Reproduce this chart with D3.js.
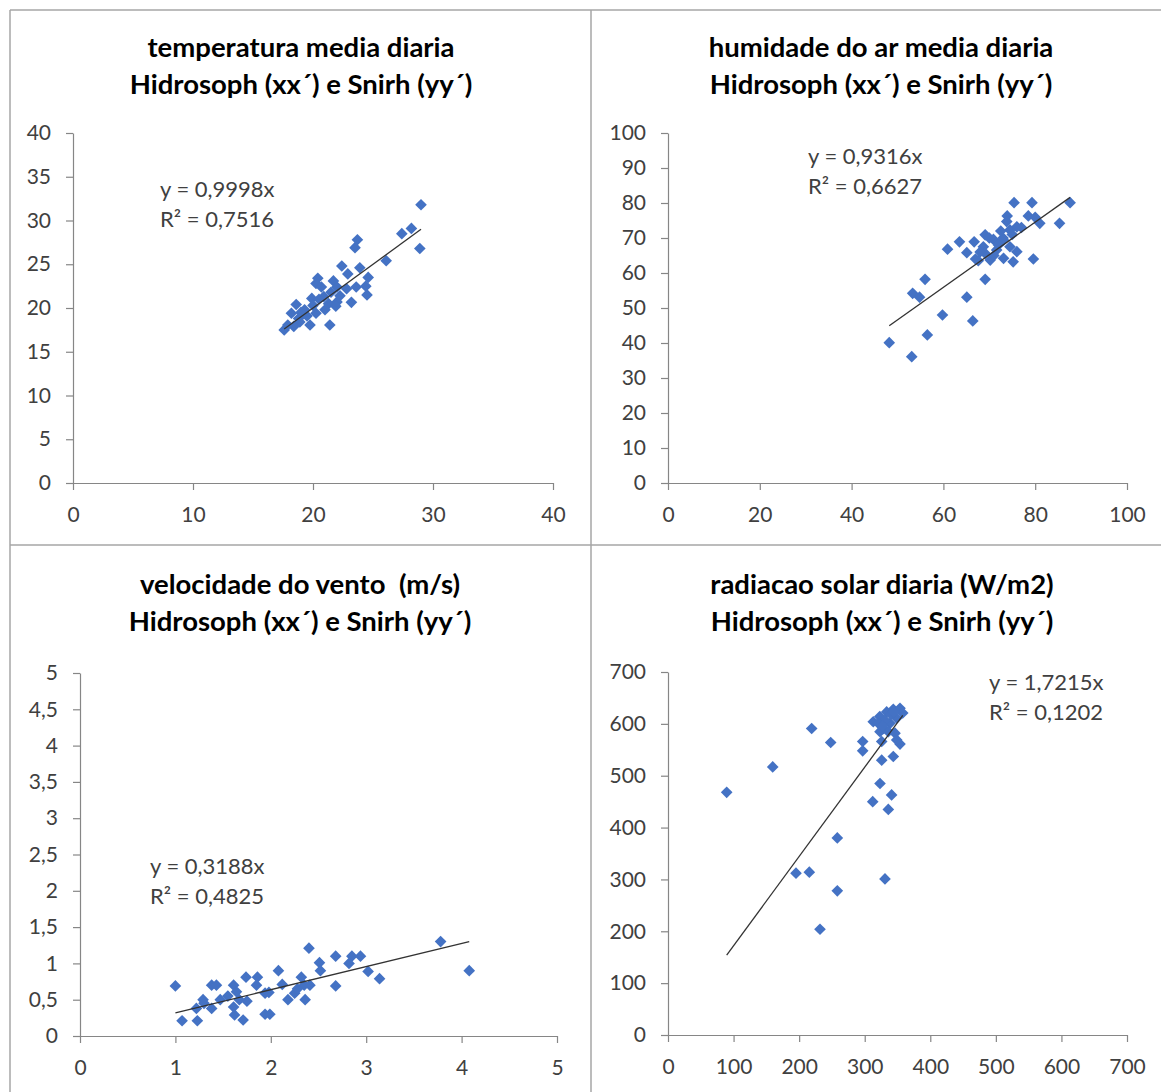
<!DOCTYPE html>
<html>
<head>
<meta charset="utf-8">
<script src="https://cdn.jsdelivr.net/npm/d3@7"></script>
<style>
  html, body { margin: 0; padding: 0; background: #fff; }
  svg { display: block; }
  text { font-family: Lato, "Open Sans", sans-serif; white-space: pre; }
</style>
</head>
<body>
<svg id="chart" width="1161" height="1092"></svg>
<script>
// ---------- DATA ----------
const titlesTemp = ["temperatura media diaria", "Hidrosoph (xx´) e Snirh (yy´)"];
const titlesHum  = ["humidade do ar media diaria", "Hidrosoph (xx´) e Snirh (yy´)"];
const titlesWind = ["velocidade do vento  (m/s)", "Hidrosoph (xx´) e Snirh (yy´)"];
const titlesRad  = ["radiacao solar diaria (W/m2)", "Hidrosoph (xx´) e Snirh (yy´)"];

const tempTicksX = [0, 10, 20, 30, 40];
const tempTicksY = [0, 5, 10, 15, 20, 25, 30, 35, 40];
const humTicksX  = [0, 20, 40, 60, 80, 100];
const humTicksY  = [0, 10, 20, 30, 40, 50, 60, 70, 80, 90, 100];
const windTicksX = [0, 1, 2, 3, 4, 5];
const windTicksY = [0, 0.5, 1, 1.5, 2, 2.5, 3, 3.5, 4, 4.5, 5];
const radTicksX  = [0, 100, 200, 300, 400, 500, 600, 700];
const radTicksY  = [0, 100, 200, 300, 400, 500, 600, 700];

const tempSlope = 0.9998, tempR2 = "0,7516";
const humSlope  = 0.9316, humR2  = "0,6627";
const windSlope = 0.3188, windR2 = "0,4825";
const radSlope  = 1.7215, radR2  = "0,1202";

const tempX = [29.0, 28.2, 27.4, 28.9, 26.1, 23.7, 23.5, 22.4, 23.9, 22.9, 24.6, 20.4, 20.25, 21.7, 22.0, 23.6,
               24.4, 24.5, 22.8, 20.7, 19.9, 22.25, 22.0, 23.2, 21.3, 20.0, 18.6, 21.9, 21.0, 19.3, 20.25, 18.2,
               19.5, 18.8, 19.75, 21.4, 18.9, 18.4, 17.6, 17.9, 20.9, 21.5, 20.5, 19.0];
const tempY = [31.8, 29.1, 28.5, 26.8, 25.4, 27.8, 26.9, 24.8, 24.6, 23.9, 23.5, 23.4, 22.8, 23.1, 22.4, 22.4,
               22.5, 21.5, 22.2, 22.4, 21.1, 21.4, 20.7, 20.65, 20.5, 20.3, 20.4, 20.2, 19.8, 19.8, 19.4, 19.4,
               19.1, 18.8, 18.06, 18.06, 18.4, 17.9, 17.5, 18.06, 21.3, 21.8, 21.0, 19.5];

const humX = [87.6, 75.4, 79.3, 85.3, 78.5, 80.0, 81.0, 73.9, 73.8, 76.0, 74.5, 69.1, 70.9, 73.1, 66.7, 63.5,
              60.9, 65.1, 68.7, 69.1, 71.6, 74.5, 76.0, 73.1, 75.2, 79.6, 67.6, 70.2, 69.1, 56.0, 53.3, 54.8,
              65.1, 59.8, 66.4, 56.5, 48.2, 53.1, 70.0, 72.0, 68.0, 71.0, 75.0, 77.0, 73.0, 67.0, 72.5];
const humY = [80.1, 80.1, 80.1, 74.2, 76.3, 75.9, 74.2, 76.3, 74.7, 73.2, 72.3, 70.9, 69.6, 69.4, 68.9, 68.9,
              66.8, 65.8, 67.5, 65.6, 66.6, 67.5, 66.1, 64.2, 63.2, 64.0, 63.5, 63.7, 58.2, 58.2, 54.2, 53.1,
              53.1, 48.0, 46.3, 42.3, 40.1, 36.1, 70.0, 68.0, 66.0, 65.0, 71.0, 73.0, 70.0, 64.0, 72.0];

const windX = [1.0, 1.07, 1.23, 1.29, 1.22, 1.38, 1.43, 1.38, 1.47, 1.61, 1.64, 1.67, 1.61, 1.62, 1.71, 1.75,
               1.74, 1.86, 1.85, 1.94, 1.98, 1.94, 1.99, 2.08, 2.12, 2.18, 2.25, 2.32, 2.35, 2.36, 2.40, 2.51,
               2.52, 2.41, 2.68, 2.68, 2.85, 2.94, 2.82, 3.02, 3.14, 3.78, 4.08, 1.30, 1.55, 2.28];
const windY = [0.69, 0.21, 0.21, 0.50, 0.38, 0.70, 0.70, 0.38, 0.50, 0.70, 0.61, 0.50, 0.40, 0.29, 0.22, 0.48,
               0.81, 0.81, 0.70, 0.59, 0.60, 0.30, 0.30, 0.90, 0.71, 0.50, 0.59, 0.81, 0.70, 0.50, 1.21, 1.01,
               0.90, 0.70, 1.10, 0.69, 1.10, 1.10, 1.00, 0.89, 0.79, 1.30, 0.90, 0.45, 0.55, 0.65];

const radX = [89.5, 159.7, 219.1, 248.1, 296.9, 296.9, 323.3, 312.2, 336.0, 341.0, 325.9, 343.6, 325.9, 353.8,
              258.2, 195.2, 215.5, 258.2, 330.9, 231.8, 313.0, 323.0, 333.5, 343.6, 353.8, 358.0, 328.8, 338.6,
              346.2, 348.8, 323.3, 331.0, 348.8, 320.7, 336.0, 340.0, 327.0, 344.0];
const radY = [468, 517, 591, 564, 566, 548, 485, 450, 435, 463, 530, 537, 566, 561,
              380, 312, 314, 278, 301, 204, 604, 614, 623, 628, 630, 621, 591, 601,
              582, 569, 585, 607, 611, 601, 585, 618, 596, 623];

// ---------- LAYOUT ----------
const panels = [
  { titles: titlesTemp, xs: tempX, ys: tempY, slope: tempSlope, r2: tempR2,
    xDom: [0, 40], yDom: [0, 40], xTicks: tempTicksX, yTicks: tempTicksY,
    left: 73, right: 553, top: 133, bottom: 483, cx: 301, titleY: 57, eq: [160, 197] },
  { titles: titlesHum, xs: humX, ys: humY, slope: humSlope, r2: humR2,
    xDom: [0, 100], yDom: [0, 100], xTicks: humTicksX, yTicks: humTicksY,
    left: 668, right: 1127, top: 133, bottom: 483, cx: 881, titleY: 57, eq: [808, 164] },
  { titles: titlesWind, xs: windX, ys: windY, slope: windSlope, r2: windR2,
    xDom: [0, 5], yDom: [0, 5], xTicks: windTicksX, yTicks: windTicksY,
    left: 80, right: 557, top: 673, bottom: 1036, cx: 300, titleY: 594, eq: [150, 874] },
  { titles: titlesRad, xs: radX, ys: radY, slope: radSlope, r2: radR2,
    xDom: [0, 700], yDom: [0, 700], xTicks: radTicksX, yTicks: radTicksY,
    left: 668, right: 1127, top: 672, bottom: 1035, cx: 882, titleY: 594, eq: [989, 690] }
];

const svg = d3.select("#chart");
const fmt = v => String(v).replace(".", ",");

// panel frame lines
const frame = svg.append("g").attr("stroke", "#a6a6a6").attr("stroke-width", 1.5).attr("fill", "none");
frame.append("line").attr("x1", 10).attr("x2", 1161).attr("y1", 10).attr("y2", 10);
frame.append("line").attr("x1", 10).attr("x2", 10).attr("y1", 10).attr("y2", 1092);
frame.append("line").attr("x1", 591).attr("x2", 591).attr("y1", 10).attr("y2", 1092);
frame.append("line").attr("x1", 10).attr("x2", 1161).attr("y1", 545).attr("y2", 545);

const diamond = d3.symbol().type(d3.symbolSquare).size(68);

panels.forEach(p => {
  const x = d3.scaleLinear().domain(p.xDom).range([p.left, p.right]);
  const y = d3.scaleLinear().domain(p.yDom).range([p.bottom, p.top]);
  const g = svg.append("g");

  // title
  const t = g.append("text").attr("x", p.cx).attr("y", p.titleY)
    .attr("text-anchor", "middle").attr("font-size", 27.5).attr("font-weight", "bold").attr("fill", "#000");
  t.append("tspan").attr("x", p.cx).attr("dy", 0).text(p.titles[0]);
  t.append("tspan").attr("x", p.cx).attr("dy", 36.5).text(p.titles[1]);

  // axes
  const xa = g.append("g").attr("transform", `translate(0,${p.bottom})`)
    .call(d3.axisBottom(x).tickValues(p.xTicks).tickFormat(fmt).tickSize(7).tickPadding(17).tickSizeOuter(0));
  const ya = g.append("g").attr("transform", `translate(${p.left},0)`)
    .call(d3.axisLeft(y).tickValues(p.yTicks).tickFormat(fmt).tickSize(7).tickPadding(15).tickSizeOuter(0));
  [xa, ya].forEach(a => {
    a.select(".domain").attr("stroke", "#868686").attr("stroke-width", 1.2);
    a.selectAll(".tick line").attr("stroke", "#868686").attr("stroke-width", 1.2);
    a.selectAll(".tick text").attr("font-size", 21).attr("fill", "#404040")
      .attr("font-family", "Lato, 'Open Sans', sans-serif");
  });

  // points
  g.append("g").selectAll("path").data(p.xs.map((v, i) => [v, p.ys[i]])).join("path")
    .attr("d", diamond)
    .attr("transform", d => `translate(${x(d[0])},${y(d[1])}) rotate(45)`)
    .attr("fill", "#4472C4");

  // trend line (through origin)
  const xmin = d3.min(p.xs), xmax = d3.max(p.xs);
  g.append("line")
    .attr("x1", x(xmin)).attr("y1", y(p.slope * xmin))
    .attr("x2", x(xmax)).attr("y2", y(p.slope * xmax))
    .attr("stroke", "#333").attr("stroke-width", 1.3);

  // equation
  const e = g.append("text").attr("x", p.eq[0]).attr("y", p.eq[1])
    .attr("font-size", 22).attr("fill", "#404040");
  e.append("tspan").attr("x", p.eq[0]).attr("dy", 0).text("y = " + fmt(p.slope) + "x");
  e.append("tspan").attr("x", p.eq[0]).attr("dy", 30).text("R² = " + p.r2);
});
</script>
</body>
</html>
